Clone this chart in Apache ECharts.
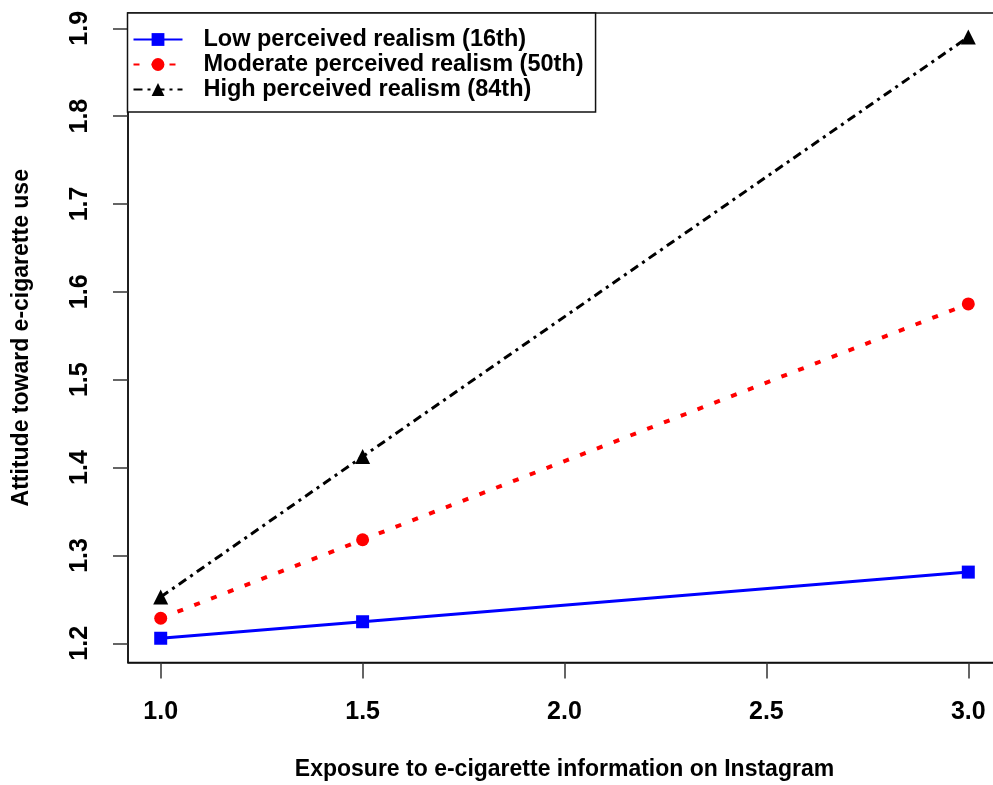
<!DOCTYPE html>
<html>
<head>
<meta charset="utf-8">
<script src="https://cdn.jsdelivr.net/npm/echarts@6/dist/echarts.min.js"></script>
<style>
html,body{margin:0;padding:0;background:#fff;}
#chart{width:993px;height:785px;}
</style>
</head>
<body>
<div id="chart"></div>
<script>
// Data
var exposure = [1.0, 1.5, 3.0];
var lowRealism = [1.2057, 1.2245, 1.2810];
var moderateRealism = [1.2285, 1.3178, 1.5862];
var highRealism = [1.2527, 1.4125, 1.8900];
var seriesNames = ['Low perceived realism (16th)', 'Moderate perceived realism (50th)', 'High perceived realism (84th)'];
var xTicks = [1.0, 1.5, 2.0, 2.5, 3.0];
var yTicks = [1.2, 1.3, 1.4, 1.5, 1.6, 1.7, 1.8, 1.9];
var xTitle = 'Exposure to e-cigarette information on Instagram';
var yTitle = 'Attitude toward e-cigarette use';

function pairs(xs, ys) { return xs.map(function (x, i) { return [x, ys[i]]; }); }

var FONT = 'Liberation Sans, Arial, sans-serif';
var chart = echarts.init(document.getElementById('chart'), null, {renderer: 'canvas'});
chart.setOption({
  backgroundColor: '#fff',
  animation: false,
  grid: {
    left: 128, top: 13, right: -8, bottom: 122.5,
    outerBoundsMode: 'none',
    show: true, borderColor: '#111', borderWidth: 1.5, backgroundColor: 'transparent',
    containLabel: false
  },
  legend: {
    orient: 'vertical', left: 127.5, top: 13,
    backgroundColor: '#fff',
    borderColor: '#111', borderWidth: 1.5, borderRadius: 0,
    padding: [14, 12, 10, 5],
    itemWidth: 49, itemHeight: 16, itemGap: 0,
    textStyle: {fontFamily: FONT, fontWeight: 'bold', fontSize: 23.5, color: '#000', lineHeight: 25, padding: [0, 0, 0, 16]},
    data: seriesNames
  },
  xAxis: {
    type: 'value', min: 0.919, max: 3.081,
    splitLine: {show: false},
    axisLine: {show: true, onZero: false, lineStyle: {color: '#111', width: 1.5}},
    axisTick: {show: true, length: 16, lineStyle: {color: '#333', width: 1.5}, customValues: xTicks},
    axisLabel: {customValues: xTicks, margin: 37, fontFamily: FONT, fontWeight: 'bold', fontSize: 25, color: '#000',
      formatter: function (v) { return v.toFixed(1); }},
    name: xTitle, nameLocation: 'middle', nameGap: 96,
    nameTextStyle: {fontFamily: FONT, fontWeight: 'bold', fontSize: 23, color: '#000'}
  },
  yAxis: {
    type: 'value', min: 1.1781, max: 1.9174,
    splitLine: {show: false},
    axisLine: {show: true, onZero: false, lineStyle: {color: '#111', width: 1.5}},
    axisTick: {show: true, length: 15, lineStyle: {color: '#333', width: 1.5}, customValues: yTicks},
    axisLabel: {customValues: yTicks, margin: 35, rotate: 90, fontFamily: FONT, fontWeight: 'bold', fontSize: 25, color: '#000',
      formatter: function (v) { return v.toFixed(1); }},
    name: yTitle, nameLocation: 'middle', nameGap: 95, nameRotate: 90,
    nameTextStyle: {fontFamily: FONT, fontWeight: 'bold', fontSize: 23, color: '#000'}
  },
  series: [
    {
      name: seriesNames[0], type: 'line', data: pairs(exposure, lowRealism),
      symbol: 'rect', symbolSize: 13,
      itemStyle: {color: '#0000ff'},
      lineStyle: {color: '#0000ff', width: 3, type: 'solid'}
    },
    {
      name: seriesNames[1], type: 'line', data: pairs(exposure, moderateRealism),
      symbol: 'circle', symbolSize: 13,
      itemStyle: {color: '#ff0000'},
      lineStyle: {color: '#ff0000', width: 4, type: [6, 12]}
    },
    {
      name: seriesNames[2], type: 'line', data: pairs(exposure, highRealism),
      symbol: 'triangle', symbolSize: 15,
      itemStyle: {color: '#000000'},
      lineStyle: {color: '#000000', width: 3, type: [9, 5, 3, 5]}
    }
  ]
});
</script>
</body>
</html>
